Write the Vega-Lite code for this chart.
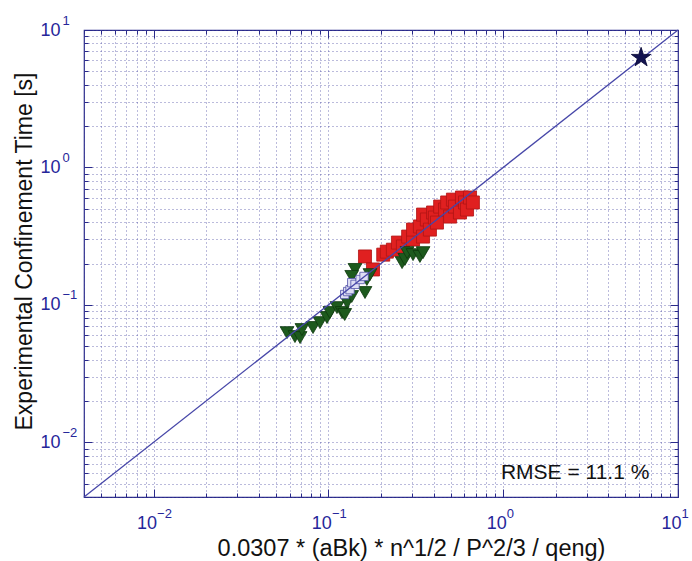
{
  "$schema": "https://vega.github.io/schema/vega-lite/v6.json",
  "width": 594,
  "height": 467,
  "autosize": "none",
  "padding": {"left": 84, "top": 30, "right": 14, "bottom": 64},
  "background": "white",
  "config": {
    "view": {"stroke": "#2a2a8a", "strokeWidth": 1.2},
    "font": "Liberation Sans"
  },
  "datasets": {
    "pts": [
      {"x": 0.162, "y": 0.225, "g": "red"},
      {"x": 0.180, "y": 0.181, "g": "red"},
      {"x": 0.206, "y": 0.232, "g": "red"},
      {"x": 0.216, "y": 0.244, "g": "red"},
      {"x": 0.234, "y": 0.252, "g": "red"},
      {"x": 0.250, "y": 0.284, "g": "red"},
      {"x": 0.267, "y": 0.266, "g": "red"},
      {"x": 0.286, "y": 0.314, "g": "red"},
      {"x": 0.305, "y": 0.299, "g": "red"},
      {"x": 0.305, "y": 0.353, "g": "red"},
      {"x": 0.334, "y": 0.372, "g": "red"},
      {"x": 0.348, "y": 0.314, "g": "red"},
      {"x": 0.348, "y": 0.454, "g": "red"},
      {"x": 0.366, "y": 0.418, "g": "red"},
      {"x": 0.381, "y": 0.353, "g": "red"},
      {"x": 0.397, "y": 0.470, "g": "red"},
      {"x": 0.407, "y": 0.432, "g": "red"},
      {"x": 0.418, "y": 0.397, "g": "red"},
      {"x": 0.436, "y": 0.519, "g": "red"},
      {"x": 0.465, "y": 0.494, "g": "red"},
      {"x": 0.478, "y": 0.556, "g": "red"},
      {"x": 0.497, "y": 0.439, "g": "red"},
      {"x": 0.516, "y": 0.583, "g": "red"},
      {"x": 0.530, "y": 0.519, "g": "red"},
      {"x": 0.566, "y": 0.470, "g": "red"},
      {"x": 0.581, "y": 0.604, "g": "red"},
      {"x": 0.605, "y": 0.556, "g": "red"},
      {"x": 0.621, "y": 0.494, "g": "red"},
      {"x": 0.646, "y": 0.604, "g": "red"},
      {"x": 0.671, "y": 0.556, "g": "red"},
      {"x": 0.058, "y": 0.0628, "g": "green"},
      {"x": 0.0644, "y": 0.0588, "g": "green"},
      {"x": 0.0689, "y": 0.0578, "g": "green"},
      {"x": 0.0706, "y": 0.0661, "g": "green"},
      {"x": 0.0817, "y": 0.0684, "g": "green"},
      {"x": 0.0895, "y": 0.0743, "g": "green"},
      {"x": 0.0982, "y": 0.0809, "g": "green"},
      {"x": 0.102, "y": 0.0879, "g": "green"},
      {"x": 0.112, "y": 0.0955, "g": "green"},
      {"x": 0.120, "y": 0.0879, "g": "green"},
      {"x": 0.124, "y": 0.0851, "g": "green"},
      {"x": 0.128, "y": 0.104, "g": "green"},
      {"x": 0.136, "y": 0.115, "g": "green"},
      {"x": 0.142, "y": 0.181, "g": "green"},
      {"x": 0.136, "y": 0.161, "g": "green"},
      {"x": 0.162, "y": 0.123, "g": "green"},
      {"x": 0.166, "y": 0.153, "g": "green"},
      {"x": 0.173, "y": 0.166, "g": "green"},
      {"x": 0.264, "y": 0.203, "g": "green"},
      {"x": 0.274, "y": 0.214, "g": "green"},
      {"x": 0.282, "y": 0.240, "g": "green"},
      {"x": 0.305, "y": 0.232, "g": "green"},
      {"x": 0.334, "y": 0.225, "g": "green"},
      {"x": 0.348, "y": 0.240, "g": "green"},
      {"x": 0.124, "y": 0.119, "g": "lav"},
      {"x": 0.129, "y": 0.125, "g": "lav"},
      {"x": 0.133, "y": 0.129, "g": "lav"},
      {"x": 0.136, "y": 0.145, "g": "lav"},
      {"x": 0.142, "y": 0.141, "g": "lav"},
      {"x": 0.152, "y": 0.153, "g": "lav"},
      {"x": 0.160, "y": 0.161, "g": "lav"}
    ],
    "diag": [{"x": 0.004, "y": 0.004}, {"x": 10, "y": 10}],
    "star": [{"x": 6.15, "y": 6.3}],
    "note": [{"x": 2.58, "y": 0.006, "label": "RMSE = 11.1 %"}]
  },
  "resolve": {"axis": {"x": "independent", "y": "independent"}},
  "layer": [
    {
      "data": {"name": "pts"},
      "mark": {"type": "point", "filled": true, "opacity": 1, "strokeWidth": 0.8},
      "encoding": {
        "x": {
          "field": "x", "type": "quantitative",
          "scale": {"type": "log", "domain": [0.004, 10], "nice": false},
          "axis": {
            "orient": "bottom",
            "values": [0.004,0.005,0.006,0.007,0.008,0.009,0.01,0.02,0.03,0.04,0.05,0.06,0.07,0.08,0.09,0.1,0.2,0.3,0.4,0.5,0.6,0.7,0.8,0.9,1,2,3,4,5,6,7,8,9,10],
            "grid": true, "gridDash": [1, 3], "gridColor": "#4a4aa0", "gridOpacity": 0.75, "gridWidth": 1,
            "domain": false,
            "tickColor": "#2a2a8a",
            "tickSize": {"condition": {"test": "datum.value==0.01||datum.value==0.1||datum.value==1||datum.value==10", "value": -8}, "value": -4},
            "labelExpr": "datum.value==0.01||datum.value==0.1||datum.value==1||datum.value==10?'10':''",
            "labelColor": "#26269a", "labelFontSize": 18, "labelPadding": 25, "labelOffset": -7,
            "labelOverlap": false, "labelBound": false, "labelFlush": false,
            "title": "0.0307 * (aBk) * n^1/2 / P^2/3 / qeng)",
            "titleFontSize": 23.5, "titleFontWeight": "normal", "titleColor": "#111111",
            "titleX": 327, "titleY": 58, "titleBaseline": "alphabetic", "titleAlign": "center"
          }
        },
        "y": {
          "field": "y", "type": "quantitative",
          "scale": {"type": "log", "domain": [0.004, 10], "nice": false},
          "axis": {
            "orient": "left",
            "values": [0.004,0.005,0.006,0.007,0.008,0.009,0.01,0.02,0.03,0.04,0.05,0.06,0.07,0.08,0.09,0.1,0.2,0.3,0.4,0.5,0.6,0.7,0.8,0.9,1,2,3,4,5,6,7,8,9,10],
            "grid": true, "gridDash": [1, 3], "gridColor": "#4a4aa0", "gridOpacity": 0.75, "gridWidth": 1,
            "domain": false,
            "tickColor": "#2a2a8a",
            "tickSize": {"condition": {"test": "datum.value==0.01||datum.value==0.1||datum.value==1||datum.value==10", "value": -8}, "value": -4},
            "labelExpr": "datum.value==0.01||datum.value==0.1||datum.value==1||datum.value==10?'10':''",
            "labelColor": "#26269a", "labelFontSize": 18, "labelPadding": 32,
            "labelOverlap": false, "labelBound": false, "labelFlush": false,
            "title": "Experimental Confinement Time [s]",
            "titleFontSize": 23, "titleFontWeight": "normal", "titleColor": "#111111",
            "titleX": -60, "titleY": 221, "titleBaseline": "middle", "titleAlign": "center", "titleAngle": -90
          }
        },
        "shape": {"field": "g", "type": "nominal", "scale": {"domain": ["red", "green", "lav"], "range": ["square", "triangle-down", "square"]}, "legend": null},
        "fill": {"field": "g", "type": "nominal", "scale": {"domain": ["red", "green", "lav"], "range": ["#e02020", "#1d5a1d", "#dedef4"]}, "legend": null},
        "stroke": {"field": "g", "type": "nominal", "scale": {"domain": ["red", "green", "lav"], "range": ["#b01414", "#0e380e", "#5252a8"]}, "legend": null},
        "size": {"field": "g", "type": "nominal", "scale": {"type": "ordinal", "domain": ["red", "green", "lav"], "range": [170, 190, 70]}, "legend": null}
      }
    },
    {
      "data": {"name": "diag"},
      "mark": {"type": "line", "color": "#4646a8", "strokeWidth": 1.3},
      "encoding": {
        "x": {
          "field": "x", "type": "quantitative",
          "scale": {"type": "log", "domain": [0.004, 10], "nice": false},
          "axis": {
            "orient": "top",
            "values": [0.004,0.005,0.006,0.007,0.008,0.009,0.01,0.02,0.03,0.04,0.05,0.06,0.07,0.08,0.09,0.1,0.2,0.3,0.4,0.5,0.6,0.7,0.8,0.9,1,2,3,4,5,6,7,8,9,10],
            "grid": false, "domain": false, "labels": false, "title": null,
            "tickColor": "#2a2a8a",
            "tickSize": {"condition": {"test": "datum.value==0.01||datum.value==0.1||datum.value==1||datum.value==10", "value": -8}, "value": -4}
          }
        },
        "y": {
          "field": "y", "type": "quantitative",
          "scale": {"type": "log", "domain": [0.004, 10], "nice": false},
          "axis": {
            "orient": "right",
            "values": [0.004,0.005,0.006,0.007,0.008,0.009,0.01,0.02,0.03,0.04,0.05,0.06,0.07,0.08,0.09,0.1,0.2,0.3,0.4,0.5,0.6,0.7,0.8,0.9,1,2,3,4,5,6,7,8,9,10],
            "grid": false, "domain": false, "labels": false, "title": null,
            "tickColor": "#2a2a8a",
            "tickSize": {"condition": {"test": "datum.value==0.01||datum.value==0.1||datum.value==1||datum.value==10", "value": -8}, "value": -4}
          }
        }
      }
    },
    {
      "data": {"name": "star"},
      "mark": {"type": "point", "filled": true, "opacity": 1, "shape": "M0,-1L0.2245,-0.309L0.951,-0.309L0.363,0.118L0.588,0.809L0,0.382L-0.588,0.809L-0.363,0.118L-0.951,-0.309L-0.2245,-0.309Z", "size": 420, "fill": "#141450", "stroke": "#000030", "strokeWidth": 0.8},
      "encoding": {
        "x": {"field": "x", "type": "quantitative", "scale": {"type": "log", "domain": [0.004, 10], "nice": false}, "axis": null},
        "y": {"field": "y", "type": "quantitative", "scale": {"type": "log", "domain": [0.004, 10], "nice": false}, "axis": null}
      }
    },
    {
      "data": {"name": "note"},
      "mark": {"type": "text", "fontSize": 21, "color": "#111111", "align": "center", "baseline": "middle"},
      "encoding": {
        "x": {
          "field": "x", "type": "quantitative",
          "scale": {"type": "log", "domain": [0.004, 10], "nice": false},
          "axis": {
            "orient": "bottom",
            "values": [0.01, 0.1, 1, 10],
            "labelExpr": "datum.value==0.01?'−2':datum.value==0.1?'−1':datum.value==1?'0':'1'",
            "ticks": false, "grid": false, "domain": false, "title": null,
            "labelColor": "#26269a", "labelFontSize": 13, "labelAlign": "left", "labelBaseline": "top",
            "labelPadding": 10, "labelOffset": 3,
            "labelOverlap": false, "labelBound": false, "labelFlush": false
          }
        },
        "y": {
          "field": "y", "type": "quantitative",
          "scale": {"type": "log", "domain": [0.004, 10], "nice": false},
          "axis": {
            "orient": "left",
            "values": [0.01, 0.1, 1, 10],
            "labelExpr": "datum.value==0.01?'−2':datum.value==0.1?'−1':datum.value==1?'0':'1'",
            "ticks": false, "grid": false, "domain": false, "title": null,
            "labelColor": "#26269a", "labelFontSize": 13, "labelAlign": "left", "labelBaseline": "middle",
            "labelPadding": 22, "labelOffset": -10,
            "labelOverlap": false, "labelBound": false, "labelFlush": false
          }
        },
        "text": {"field": "label"}
      }
    }
  ]
}
